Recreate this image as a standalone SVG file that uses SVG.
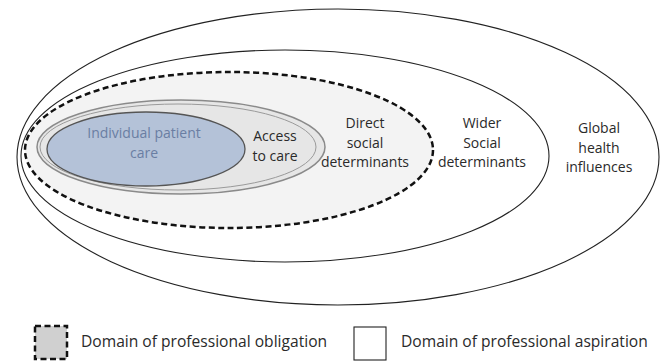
<svg xmlns="http://www.w3.org/2000/svg" width="663" height="362" viewBox="0 0 663 362">
<style>
.t{font-family:"Open Sans","Liberation Sans",sans-serif;font-size:14px;fill:#2a2a2a;text-anchor:middle}
.lg{font-family:"Open Sans","Liberation Sans",sans-serif;font-size:15.6px;fill:#2a2a2a}
.thin{fill:#fff;stroke:#222;stroke-width:1.1}
.dash{stroke:#111;stroke-width:2.5;stroke-dasharray:6 3.5}
</style>
<rect width="663" height="362" fill="#fff"/>
<g id="global">
<ellipse class="thin" cx="338" cy="157" rx="321" ry="148"/>
<text class="t" x="599" y="133">Global</text>
<text class="t" x="599" y="153">health</text>
<text class="t" x="599" y="172">influences</text>
</g>
<g id="wider">
<ellipse class="thin" cx="285" cy="156" rx="264" ry="106"/>
<text class="t" x="482" y="128">Wider</text>
<text class="t" x="482" y="148">Social</text>
<text class="t" x="482" y="167">determinants</text>
</g>
<g id="direct">
<ellipse class="dash" cx="229" cy="150" rx="204" ry="78" fill="#f3f3f3"/>
<text class="t" x="365" y="128">Direct</text>
<text class="t" x="365" y="148">social</text>
<text class="t" x="365" y="167">determinants</text>
</g>
<g id="access">
<ellipse cx="181" cy="147" rx="144" ry="47" fill="#e6e6e6" stroke="#8a8a8a" stroke-width="1.5"/>
<ellipse cx="178" cy="147" rx="138" ry="43" fill="none" stroke="#9a9a9a" stroke-width="1"/>
<text class="t" x="275" y="141">Access</text>
<text class="t" x="275" y="161">to care</text>
</g>
<g id="individual">
<ellipse cx="146" cy="149" rx="99" ry="37" fill="#b4c2d8" stroke="#555" stroke-width="1.3"/>
<text class="t" x="144" y="138" style="fill:#6a7ea3">Individual patient</text>
<text class="t" x="144" y="158" style="fill:#6a7ea3">care</text>
</g>
<g id="legend">
<rect class="dash" x="35" y="326" width="32" height="33" fill="#d0d0d0"/>
<text class="lg" x="81" y="347">Domain of professional obligation</text>
<rect x="354" y="327" width="32" height="33" fill="#fff" stroke="#222" stroke-width="1.1"/>
<text class="lg" x="401" y="347">Domain of professional aspiration</text>
</g>
<g id="connectors"/>
</svg>
